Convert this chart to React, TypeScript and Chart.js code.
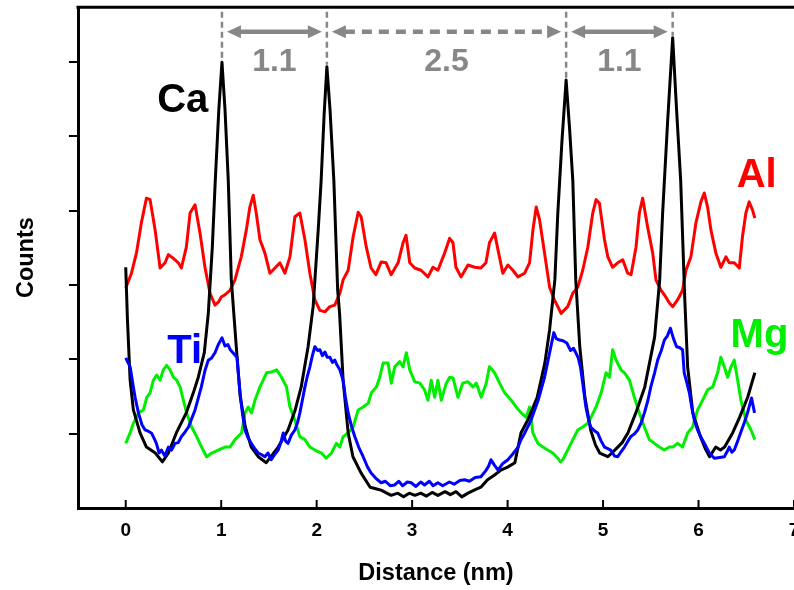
import { useEffect, useRef } from 'react';
import { Chart, registerables } from 'chart.js';

Chart.register(...registerables);

// ---- Data (distance in nm, counts in arbitrary units) ----
const caDistance = [0, 0.018, 0.046, 0.08, 0.15, 0.217, 0.31, 0.384, 0.447, 0.53, 0.634, 0.708, 0.76, 0.823, 0.865, 0.907, 0.938, 0.975, 1.008, 1.04, 1.074, 1.106, 1.158, 1.2, 1.253, 1.315, 1.388, 1.472, 1.597, 1.7, 1.775, 1.838, 1.91, 1.963, 2.016, 2.047, 2.078, 2.107, 2.14, 2.18, 2.22, 2.24, 2.277, 2.33, 2.38, 2.466, 2.56, 2.62, 2.675, 2.72, 2.78, 2.85, 2.91, 2.97, 3.03, 3.09, 3.15, 3.21, 3.27, 3.345, 3.4, 3.46, 3.52, 3.585, 3.65, 3.72, 3.79, 3.86, 3.93, 4.0, 4.076, 4.14, 4.21, 4.31, 4.39, 4.44, 4.495, 4.526, 4.57, 4.613, 4.65, 4.683, 4.714, 4.756, 4.81, 4.87, 4.92, 4.965, 5.05, 5.1, 5.154, 5.2, 5.26, 5.343, 5.437, 5.54, 5.593, 5.624, 5.677, 5.729, 5.77, 5.813, 5.855, 5.886, 5.94, 6.02, 6.07, 6.116, 6.18, 6.23, 6.273, 6.357, 6.43, 6.515, 6.567, 6.59];
const caCounts = [3.24, 2.53, 1.72, 1.32, 1.01, 0.82, 0.74, 0.62, 0.74, 1.01, 1.28, 1.55, 1.76, 2.09, 2.62, 3.51, 4.41, 5.36, 6.0, 5.36, 4.41, 3.07, 2.17, 1.49, 1.09, 0.82, 0.69, 0.61, 0.82, 1.05, 1.32, 1.63, 2.17, 2.71, 3.74, 4.41, 5.29, 5.94, 5.36, 4.41, 2.93, 2.62, 1.72, 1.01, 0.69, 0.47, 0.28, 0.26, 0.24, 0.21, 0.17, 0.2, 0.15, 0.2, 0.17, 0.2, 0.16, 0.21, 0.17, 0.22, 0.18, 0.22, 0.15, 0.2, 0.24, 0.28, 0.38, 0.44, 0.51, 0.55, 0.61, 1.01, 1.18, 1.49, 1.95, 2.4, 3.07, 3.97, 4.95, 5.76, 5.09, 4.41, 3.07, 2.17, 1.49, 1.05, 0.85, 0.74, 0.69, 0.75, 0.82, 0.88, 1.01, 1.28, 1.63, 2.3, 3.07, 3.97, 5.22, 6.33, 5.36, 4.41, 2.84, 1.9, 1.28, 0.96, 0.8, 0.69, 0.82, 0.78, 0.82, 1.01, 1.22, 1.49, 1.72, 1.82];

const tiDistance = [0, 0.046, 0.08, 0.098, 0.133, 0.17, 0.203, 0.24, 0.269, 0.3, 0.321, 0.35, 0.373, 0.41, 0.447, 0.48, 0.517, 0.55, 0.583, 0.62, 0.657, 0.69, 0.726, 0.76, 0.792, 0.83, 0.865, 0.9, 0.935, 0.97, 1.008, 1.04, 1.07, 1.095, 1.13, 1.165, 1.18, 1.2, 1.225, 1.249, 1.28, 1.315, 1.35, 1.388, 1.42, 1.458, 1.49, 1.524, 1.56, 1.597, 1.625, 1.65, 1.675, 1.7, 1.735, 1.772, 1.8, 1.824, 1.85, 1.877, 1.9, 1.929, 1.955, 1.981, 2.01, 2.034, 2.06, 2.086, 2.11, 2.138, 2.165, 2.19, 2.215, 2.243, 2.277, 2.3, 2.33, 2.365, 2.4, 2.44, 2.487, 2.53, 2.57, 2.62, 2.675, 2.72, 2.77, 2.818, 2.86, 2.9, 2.95, 2.99, 3.04, 3.09, 3.13, 3.18, 3.22, 3.27, 3.32, 3.39, 3.44, 3.5, 3.55, 3.6, 3.66, 3.72, 3.77, 3.8, 3.826, 3.86, 3.9, 3.95, 4.003, 4.05, 4.11, 4.14, 4.18, 4.245, 4.32, 4.387, 4.44, 4.484, 4.51, 4.544, 4.58, 4.62, 4.66, 4.69, 4.71, 4.74, 4.763, 4.79, 4.82, 4.85, 4.87, 4.91, 4.943, 4.98, 5.015, 5.05, 5.08, 5.12, 5.154, 5.19, 5.224, 5.26, 5.29, 5.33, 5.363, 5.4, 5.433, 5.47, 5.5, 5.54, 5.572, 5.61, 5.642, 5.675, 5.705, 5.74, 5.77, 5.8, 5.833, 5.85, 5.875, 5.904, 5.93, 5.956, 5.99, 6.022, 6.07, 6.113, 6.165, 6.22, 6.27, 6.3, 6.322, 6.35, 6.374, 6.41, 6.44, 6.48, 6.513, 6.555, 6.587];
const tiCounts = [2.02, 1.9, 1.63, 1.49, 1.28, 1.12, 1.05, 1.03, 1.01, 0.93, 0.87, 0.74, 0.78, 0.7, 0.82, 0.78, 0.87, 0.88, 0.96, 1.02, 1.09, 1.2, 1.32, 1.48, 1.63, 1.85, 1.99, 2.02, 2.09, 2.2, 2.29, 2.18, 2.2, 2.13, 2.08, 2.03, 1.8, 1.52, 1.25, 1.05, 0.95, 0.87, 0.8, 0.74, 0.72, 0.69, 0.74, 0.65, 0.72, 0.78, 0.88, 1.01, 0.9, 0.87, 0.98, 1.05, 1.15, 1.28, 1.45, 1.63, 1.76, 1.9, 2.05, 2.17, 2.12, 2.13, 2.05, 2.1, 2.03, 2.03, 1.96, 1.99, 1.92, 1.86, 1.72, 1.5, 1.28, 1.1, 0.96, 0.82, 0.69, 0.56, 0.47, 0.4, 0.34, 0.36, 0.3, 0.31, 0.36, 0.3, 0.35, 0.34, 0.29, 0.35, 0.31, 0.36, 0.3, 0.34, 0.3, 0.35, 0.32, 0.37, 0.38, 0.36, 0.41, 0.42, 0.5, 0.56, 0.65, 0.58, 0.51, 0.6, 0.65, 0.72, 0.82, 0.92, 1.01, 1.18, 1.45, 1.76, 2.09, 2.36, 2.28, 2.26, 2.25, 2.22, 2.12, 2.15, 2.1, 2.02, 1.9, 1.65, 1.36, 1.18, 1.09, 1.04, 1.01, 0.9, 0.82, 0.8, 0.78, 0.7, 0.69, 0.76, 0.82, 0.9, 0.96, 1.0, 1.05, 1.15, 1.28, 1.45, 1.63, 1.82, 1.99, 2.12, 2.26, 2.32, 2.42, 2.27, 2.17, 2.16, 2.13, 1.82, 1.7, 1.55, 1.35, 1.18, 1.05, 0.96, 0.85, 0.74, 0.67, 0.68, 0.69, 0.76, 0.82, 0.75, 0.78, 0.9, 1.01, 1.15, 1.28, 1.48, 1.28];

const alDistance = [0, 0.06, 0.112, 0.164, 0.217, 0.255, 0.308, 0.36, 0.412, 0.447, 0.499, 0.551, 0.583, 0.635, 0.674, 0.726, 0.778, 0.83, 0.883, 0.935, 0.97, 1.001, 1.04, 1.092, 1.144, 1.21, 1.263, 1.3, 1.336, 1.367, 1.406, 1.458, 1.51, 1.563, 1.615, 1.667, 1.72, 1.772, 1.824, 1.877, 1.929, 1.981, 2.034, 2.086, 2.138, 2.19, 2.243, 2.277, 2.33, 2.382, 2.435, 2.466, 2.52, 2.57, 2.62, 2.675, 2.727, 2.78, 2.853, 2.905, 2.936, 2.975, 3.027, 3.093, 3.166, 3.218, 3.27, 3.34, 3.393, 3.428, 3.459, 3.512, 3.585, 3.655, 3.72, 3.773, 3.81, 3.864, 3.9, 3.95, 4.003, 4.055, 4.108, 4.178, 4.23, 4.265, 4.3, 4.335, 4.387, 4.44, 4.49, 4.526, 4.56, 4.63, 4.683, 4.735, 4.787, 4.84, 4.892, 4.927, 4.962, 5.015, 5.05, 5.1, 5.154, 5.206, 5.258, 5.293, 5.345, 5.38, 5.415, 5.467, 5.52, 5.554, 5.607, 5.642, 5.695, 5.73, 5.78, 5.833, 5.868, 5.92, 5.973, 6.025, 6.06, 6.095, 6.13, 6.182, 6.234, 6.287, 6.322, 6.374, 6.427, 6.46, 6.496, 6.53, 6.566, 6.59];
const alCounts = [2.96, 3.16, 3.43, 3.84, 4.17, 4.15, 3.74, 3.23, 3.3, 3.41, 3.36, 3.3, 3.23, 3.51, 3.97, 4.08, 3.7, 3.24, 2.89, 2.73, 2.77, 2.84, 2.87, 2.93, 3.07, 3.38, 3.74, 4.05, 4.21, 3.97, 3.61, 3.43, 3.16, 3.23, 3.3, 3.16, 3.38, 3.92, 3.97, 3.61, 3.16, 2.8, 2.66, 2.64, 2.71, 2.73, 2.89, 3.07, 3.2, 3.65, 3.98, 3.92, 3.51, 3.23, 3.14, 3.31, 3.3, 3.14, 3.3, 3.57, 3.67, 3.3, 3.23, 3.2, 3.11, 3.24, 3.2, 3.43, 3.63, 3.57, 3.24, 3.11, 3.27, 3.24, 3.23, 3.3, 3.57, 3.7, 3.47, 3.16, 3.27, 3.2, 3.11, 3.16, 3.3, 3.74, 4.05, 3.88, 3.43, 2.97, 2.8, 2.71, 2.62, 2.71, 2.89, 2.97, 3.2, 3.51, 3.97, 4.15, 4.1, 3.61, 3.38, 3.24, 3.3, 3.34, 3.16, 3.14, 3.51, 3.97, 4.17, 3.78, 3.43, 3.07, 2.93, 2.87, 2.76, 2.71, 2.8, 2.93, 3.2, 3.38, 3.84, 4.12, 4.24, 4.05, 3.74, 3.43, 3.24, 3.38, 3.3, 3.3, 3.23, 3.65, 3.97, 4.12, 4.01, 3.9];

const mgDistance = [0, 0.046, 0.08, 0.133, 0.185, 0.22, 0.255, 0.29, 0.324, 0.36, 0.394, 0.429, 0.464, 0.499, 0.533, 0.569, 0.604, 0.638, 0.69, 0.743, 0.795, 0.847, 0.9, 0.97, 1.04, 1.092, 1.144, 1.213, 1.249, 1.283, 1.318, 1.354, 1.406, 1.44, 1.475, 1.527, 1.58, 1.632, 1.684, 1.72, 1.772, 1.824, 1.877, 1.929, 1.981, 2.05, 2.1, 2.155, 2.207, 2.243, 2.277, 2.33, 2.382, 2.435, 2.487, 2.54, 2.574, 2.626, 2.661, 2.696, 2.748, 2.782, 2.818, 2.87, 2.905, 2.94, 2.975, 3.027, 3.08, 3.13, 3.166, 3.2, 3.236, 3.27, 3.305, 3.358, 3.393, 3.428, 3.48, 3.53, 3.585, 3.637, 3.672, 3.724, 3.776, 3.81, 3.864, 3.916, 3.969, 4.038, 4.09, 4.142, 4.195, 4.23, 4.265, 4.317, 4.37, 4.42, 4.474, 4.526, 4.554, 4.578, 4.63, 4.683, 4.735, 4.787, 4.84, 4.874, 4.927, 4.98, 5.031, 5.067, 5.1, 5.136, 5.188, 5.224, 5.276, 5.328, 5.38, 5.433, 5.485, 5.538, 5.59, 5.642, 5.695, 5.73, 5.78, 5.833, 5.886, 5.938, 5.99, 6.043, 6.095, 6.148, 6.2, 6.234, 6.27, 6.305, 6.34, 6.374, 6.41, 6.444, 6.496, 6.55, 6.59];
const mgCounts = [0.87, 1.01, 1.14, 1.28, 1.32, 1.49, 1.55, 1.72, 1.79, 1.72, 1.86, 1.92, 1.86, 1.76, 1.72, 1.63, 1.45, 1.28, 1.09, 0.96, 0.82, 0.69, 0.74, 0.78, 0.82, 0.82, 0.92, 1.01, 1.28, 1.36, 1.28, 1.45, 1.63, 1.72, 1.82, 1.83, 1.86, 1.76, 1.63, 1.36, 1.18, 0.96, 0.92, 0.82, 0.78, 0.74, 0.67, 0.74, 0.87, 0.82, 0.96, 1.01, 1.09, 1.32, 1.36, 1.41, 1.55, 1.63, 1.76, 1.95, 1.95, 1.68, 1.9, 1.97, 1.9, 2.09, 1.86, 1.7, 1.68, 1.59, 1.45, 1.72, 1.49, 1.72, 1.45, 1.68, 1.76, 1.75, 1.49, 1.68, 1.7, 1.63, 1.68, 1.49, 1.68, 1.9, 1.82, 1.68, 1.55, 1.45, 1.36, 1.28, 1.22, 1.36, 1.01, 0.87, 0.82, 0.78, 0.74, 0.67, 0.62, 0.65, 0.78, 0.92, 1.05, 1.09, 1.14, 1.22, 1.36, 1.55, 1.82, 1.76, 2.13, 1.99, 1.86, 1.82, 1.72, 1.49, 1.28, 1.09, 0.92, 0.87, 0.82, 0.78, 0.82, 0.82, 0.87, 0.82, 1.01, 1.09, 1.32, 1.45, 1.59, 1.63, 1.82, 2.03, 1.9, 1.76, 1.9, 1.99, 1.72, 1.45, 1.18, 1.05, 0.92];

const xTickValues = [0, 1, 2, 3, 4, 5, 6, 7];
const yTickValues = [1, 2, 3, 4, 5, 6];

// Spacing annotations between Ca columns
const peakDistances = [1.008, 2.107, 4.613, 5.729];
const spacingLabels = ['1.1', '2.5', '1.1'];
const spacingDashed = [false, true, false];

// ---- presentation ----
const FONT = '"Liberation Sans", Arial, Helvetica, sans-serif';
const GRAY = '#878787';
const markTopValue = 6.68;
const arrowValue = 6.41;
const spacingLabelValue = 5.88;
const seriesLabels = [
  { text: 'Ca', color: '#000000', x: 0.33, y: 5.33 },
  { text: 'Al', color: '#ff0000', x: 6.4, y: 4.32 },
  { text: 'Ti', color: '#0000ff', x: 0.436, y: 1.95 },
  { text: 'Mg', color: '#00ee00', x: 6.336, y: 2.17 },
];

function nearestIndex(arr: number[], v: number) {
  let best = 0;
  for (let i = 1; i < arr.length; i++) if (Math.abs(arr[i] - v) < Math.abs(arr[best] - v)) best = i;
  return best;
}

function drawArrow(ctx: CanvasRenderingContext2D, x1: number, x2: number, y: number, dashed: boolean) {
  const head = 14;
  const half = 6.5;
  ctx.fillStyle = GRAY;
  ctx.strokeStyle = GRAY;
  ctx.lineWidth = 4.5;
  ctx.setLineDash(dashed ? [10, 7] : []);
  ctx.beginPath();
  ctx.moveTo(x1 + head - 1, y);
  ctx.lineTo(x2 - head + 1, y);
  ctx.stroke();
  ctx.setLineDash([]);
  ctx.beginPath();
  ctx.moveTo(x1, y);
  ctx.lineTo(x1 + head, y - half);
  ctx.lineTo(x1 + head, y + half);
  ctx.closePath();
  ctx.fill();
  ctx.beginPath();
  ctx.moveTo(x2, y);
  ctx.lineTo(x2 - head, y - half);
  ctx.lineTo(x2 - head, y + half);
  ctx.closePath();
  ctx.fill();
}

const annotatePlugin = {
  id: 'annotate',
  afterDraw(chart: any) {
    const { ctx, chartArea, scales } = chart;
    const xs = scales.x;
    const ys = scales.y;
    ctx.save();
    // top frame line
    ctx.strokeStyle = '#000';
    ctx.lineWidth = 3;
    ctx.setLineDash([]);
    ctx.beginPath();
    ctx.moveTo(chartArea.left - 1.5, chartArea.top);
    ctx.lineTo(chartArea.right + 10, chartArea.top);
    ctx.stroke();
    // inward x tick marks
    ctx.lineWidth = 2;
    xTickValues.forEach((v) => {
      const px = xs.getPixelForValue(v);
      ctx.beginPath();
      ctx.moveTo(px, chartArea.bottom);
      ctx.lineTo(px, chartArea.bottom - 8);
      ctx.stroke();
    });
    // dashed vertical markers at Ca peaks
    ctx.strokeStyle = GRAY;
    ctx.lineWidth = 2.5;
    ctx.setLineDash([6, 4]);
    const topPx = ys.getPixelForValue(markTopValue);
    const peakPx = peakDistances.map((d) => xs.getPixelForValue(d));
    peakDistances.forEach((d, i) => {
      const v = caCounts[nearestIndex(caDistance, d)];
      ctx.beginPath();
      ctx.moveTo(peakPx[i], topPx);
      ctx.lineTo(peakPx[i], ys.getPixelForValue(v) - 2);
      ctx.stroke();
    });
    ctx.setLineDash([]);
    // arrows and spacing labels
    const ay = ys.getPixelForValue(arrowValue);
    const ly = ys.getPixelForValue(spacingLabelValue);
    ctx.font = `bold 32px ${FONT}`;
    ctx.textAlign = 'center';
    ctx.textBaseline = 'alphabetic';
    spacingLabels.forEach((label, i) => {
      const a = peakPx[i];
      const b = peakPx[i + 1];
      drawArrow(ctx, a + 5, b - 5, ay, spacingDashed[i]);
      ctx.fillStyle = GRAY;
      ctx.fillText(label, (a + b) / 2, ly);
    });
    // series labels
    ctx.font = `bold 40px ${FONT}`;
    ctx.textAlign = 'left';
    seriesLabels.forEach((s) => {
      ctx.fillStyle = s.color;
      ctx.fillText(s.text, xs.getPixelForValue(s.x), ys.getPixelForValue(s.y));
    });
    ctx.restore();
  },
};

function toPoints(xs: number[], ys: number[]) {
  return xs.map((x, i) => ({ x, y: ys[i] }));
}

export default function App() {
  const ref = useRef<HTMLCanvasElement | null>(null);
  useEffect(() => {
    if (!ref.current) return;
    Chart.defaults.font.family = FONT;
    const line = (label: string, color: string, pts: { x: number; y: number }[]) => ({
      label,
      data: pts,
      borderColor: color,
      backgroundColor: color,
      borderWidth: 3,
      pointRadius: 0,
      tension: 0,
      borderJoinStyle: 'round' as const,
      fill: false,
    });
    const chart = new Chart(ref.current, {
      type: 'line',
      data: {
        datasets: [
          line('Ti', '#0000ff', toPoints(tiDistance, tiCounts)),
          line('Ca', '#000000', toPoints(caDistance, caCounts)),
          line('Al', '#ff0000', toPoints(alDistance, alCounts)),
          line('Mg', '#00ee00', toPoints(mgDistance, mgCounts)),
        ],
      },
      options: {
        animation: false,
        responsive: false,
        devicePixelRatio: 1,
        layout: { padding: { left: 0, top: 7, right: 56, bottom: 0 } },
        plugins: { legend: { display: false }, tooltip: { enabled: false } },
        scales: {
          x: {
            type: 'linear',
            min: -0.5,
            max: 7,
            afterBuildTicks: (s: any) => {
              s.ticks = xTickValues.map((value) => ({ value }));
            },
            afterFit: (s: any) => {
              s.height = 82;
            },
            grid: { display: false, drawTicks: false },
            border: { display: true, color: '#000', width: 3 },
            ticks: {
              autoSkip: false,
              maxRotation: 0,
              padding: 11,
              color: '#000',
              font: { size: 19, weight: 'bold', family: FONT },
            },
            title: {
              display: true,
              text: 'Distance (nm)',
              color: '#000',
              font: { size: 23.5, weight: 'bold', family: FONT },
              padding: { top: 0, bottom: 2 },
            },
          },
          y: {
            type: 'linear',
            min: 0,
            max: 6.74,
            afterBuildTicks: (s: any) => {
              s.ticks = yTickValues.map((value) => ({ value }));
            },
            afterFit: (s: any) => {
              s.width = 78;
            },
            grid: { display: true, drawOnChartArea: false, drawTicks: true, tickLength: 9, color: '#000', lineWidth: 2 },
            border: { display: true, color: '#000', width: 3 },
            ticks: { callback: () => '', padding: 0 },
            title: {
              display: true,
              text: 'Counts',
              color: '#000',
              font: { size: 23.5, weight: 'bold', family: FONT },
              padding: { top: 12, bottom: 0 },
            },
          },
        },
      },
      plugins: [annotatePlugin],
    });
    return () => chart.destroy();
  }, []);
  return (
    <div style={{ position: 'fixed', left: 0, top: 0, width: 794, height: 590, overflow: 'hidden', background: '#fff' }}>
      <canvas ref={ref} width={850} height={590} style={{ display: 'block' }} />
    </div>
  );
}
